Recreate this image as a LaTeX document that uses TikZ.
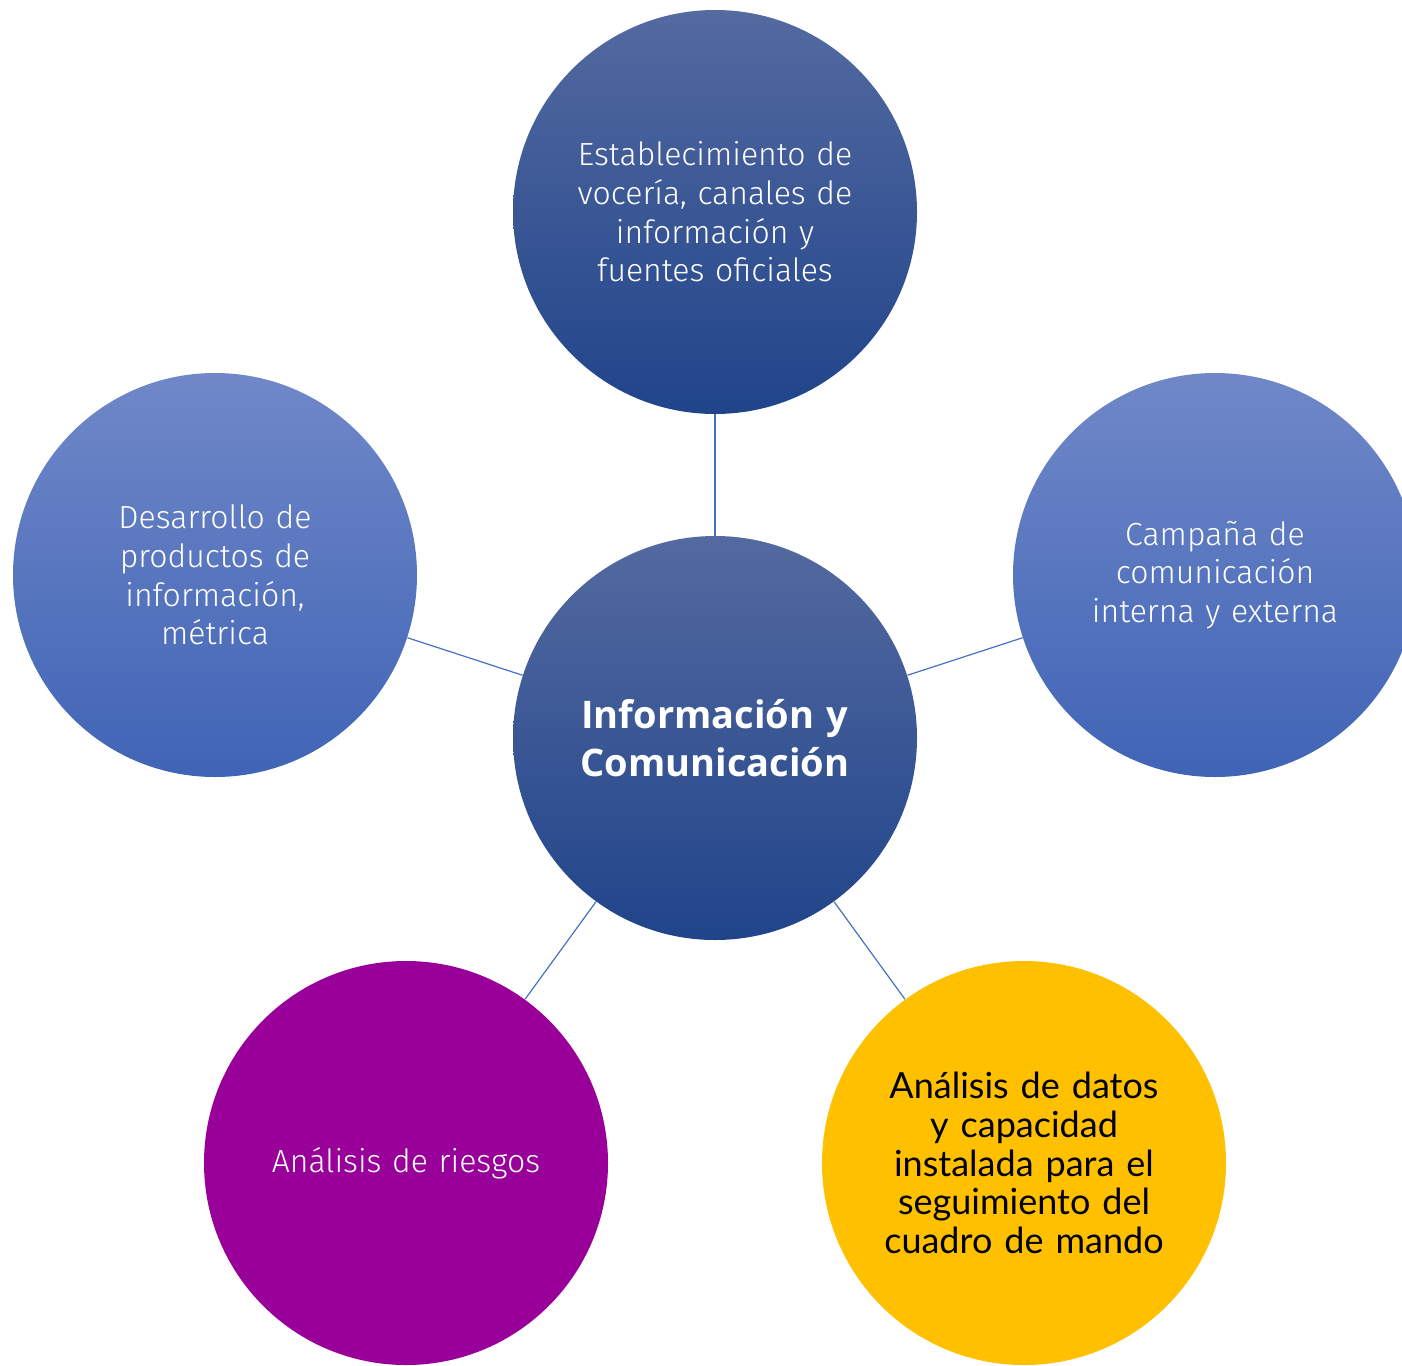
\documentclass[tikz,border=0pt]{standalone}
\usepackage{fontspec}
\setmainfont{Fira Sans Light}
\newfontfamily\boldfont{Open Sans Bold}
\newfontfamily\gillfont{Lato}
\definecolor{darkTop}{RGB}{84,106,160}
\definecolor{darkBot}{RGB}{32,68,138}
\definecolor{midTop}{RGB}{112,136,200}
\definecolor{midBot}{RGB}{64,100,182}
\definecolor{purp}{RGB}{153,0,153}
\definecolor{yell}{RGB}{255,192,0}
\definecolor{linkc}{RGB}{68,114,196}
\begin{document}
\begin{tikzpicture}[x=0.5pt,y=-0.5pt,
  bubble/.style={circle,minimum size=202pt,inner sep=0pt,align=center,text width=180pt},
  darkb/.style={bubble,top color=darkTop,bottom color=darkBot,text=white},
  midb/.style={bubble,top color=midTop,bottom color=midBot,text=white},
  lighttext/.style={font=\fontsize{16}{19.3}\selectfont},
  link/.style={draw=linkc,line width=0.6pt}]
\clip (0,0) rectangle (1402,1365);
\node[darkb,lighttext] (top) at (715,212) {Establecimiento de\\vocería, canales de\\información y\\fuentes oficiales};
\node[darkb,font=\boldfont\fontsize{19}{24}\selectfont] (ctr) at (715,738) {Información y\\Comunicación};
\node[midb,lighttext] (left) at (215,575) {Desarrollo de\\productos de\\información,\\métrica};
\node[midb,lighttext] (right) at (1215,575) {Campaña de\\comunicación\\interna y externa};
\node[bubble,fill=purp,text=white,lighttext] (bl) at (406,1163) {Análisis de riesgos};
\node[bubble,fill=yell,text=black,font=\gillfont\fontsize{18}{19.3}\selectfont] (br) at (1024,1163) {Análisis de datos\\y capacidad\\instalada para el\\seguimiento del\\cuadro de mando};
\draw[link] (ctr) -- (top);
\draw[link] (ctr) -- (left);
\draw[link] (ctr) -- (right);
\draw[link] (ctr) -- (bl);
\draw[link] (ctr) -- (br);
\end{tikzpicture}
\end{document}
